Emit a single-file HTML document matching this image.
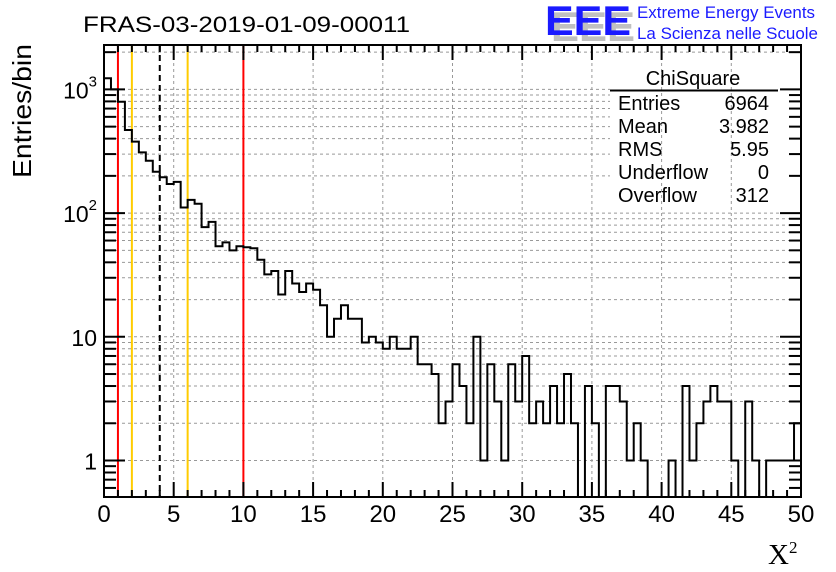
<!DOCTYPE html>
<html><head><meta charset="utf-8"><style>
html,body{margin:0;padding:0;background:#fff}
svg{display:block;font-family:"Liberation Sans",sans-serif}
</style></head><body>
<svg id="chart" width="836" height="572" viewBox="0 0 836 572" xmlns="http://www.w3.org/2000/svg">
<g id="grid"></g>
<g id="vlines"></g>
<g id="hist"></g>
<g id="axes"></g>
<text x="83" y="32" font-size="22" textLength="327" lengthAdjust="spacingAndGlyphs">FRAS-03-2019-01-09-00011</text>
<g>
<text x="551" y="41" font-size="42" font-weight="bold" fill="#c0c0c0" textLength="84" lengthAdjust="spacingAndGlyphs">EEE</text>
<text x="545" y="35" font-size="42" font-weight="bold" fill="#1a1aff" textLength="86" lengthAdjust="spacingAndGlyphs">EEE</text>
<text x="637" y="18" font-size="17" fill="#1a1aff" textLength="178" lengthAdjust="spacingAndGlyphs">Extreme Energy Events</text>
<text x="637" y="39" font-size="17" fill="#1a1aff" textLength="181" lengthAdjust="spacingAndGlyphs">La Scienza nelle Scuole</text>
</g>
<g font-size="20">
<text x="693" y="85" text-anchor="middle">ChiSquare</text>
<line x1="610" y1="90.5" x2="778" y2="90.5" stroke="#000" stroke-width="2"/>
<text x="618" y="110">Entries</text><text x="769" y="110" text-anchor="end">6964</text>
<text x="618" y="133">Mean</text><text x="769" y="133" text-anchor="end">3.982</text>
<text x="618" y="156">RMS</text><text x="769" y="156" text-anchor="end">5.95</text>
<text x="618" y="179">Underflow</text><text x="769" y="179" text-anchor="end">0</text>
<text x="618" y="202">Overflow</text><text x="769" y="202" text-anchor="end">312</text>
</g>
<text transform="translate(31,178) rotate(-90)" font-size="26" textLength="134" lengthAdjust="spacingAndGlyphs">Entries/bin</text>
<text x="768" y="564" font-size="29" font-family="Liberation Serif, serif">X<tspan dy="-11" font-size="17">2</tspan></text>
</svg>
<script>
const counts = [1230,1000,795,470,378,310,265,216,195,172,179,111,128,119,77,85,54,58,50,54,53,52,42,32,34,22,34,27,23,27,24,18,10,14,18,14,14,9,10,9,8,10,8,8,10,6,6,5,2,3,6,4,2,10,1,6,3,1,6,3,7,2,3,2,4,2,5,2,0,4,2,0,4,4,3,1,2,1,0,0,0,1,0,4,1,2,3,4,3,3,1,0,3,1,0,1,1,1,1,2];
const xTicks = [0,5,10,15,20,25,30,35,40,45,50];
const yDecades = [1,10,100,1000];
const markerRed = [1,10];
const markerOrange = [2,6];
const markerDashed = [4];
const xMin=0, xMax=50, binW=0.5;
const L=104,R=801,T=45,B=497;
const NS="http://www.w3.org/2000/svg";
function X(v){return L+(v-xMin)/(xMax-xMin)*(R-L);}
function Y(v){ if(v<=0) return B; return Math.max(T,Math.min(B,460.5-123.7*Math.log10(v))); }
function mk(tag,attrs,parent){const e=document.createElementNS(NS,tag);for(const k in attrs)e.setAttribute(k,attrs[k]);parent.appendChild(e);return e;}
const grid=document.getElementById('grid');
xTicks.forEach(t=>{ if(t>xMin&&t<xMax){
 const l=mk('line',{x1:X(t),x2:X(t),y1:T,y2:B,stroke:'#999','stroke-dasharray':'3,3','stroke-width':1},grid);
 
 }});
const ax=document.getElementById('axes');
yDecades.forEach(d=>{ for(let m=1;m<=9;m++){ const v=d*m; const y=Y(v); if(y<=T||y>=B) continue;
 const inBox = y>62&&y<208;
 const l=mk('line',{x1:L,x2:inBox?610:R,y1:y,y2:y,stroke:'#999','stroke-dasharray':'3,3','stroke-width':1},grid);
 
 
 const len=m===1?21:12;
 mk('line',{x1:L,x2:L+len,y1:y,y2:y,stroke:'#000','stroke-width':2},ax);
 mk('line',{x1:R-len,x2:R,y1:y,y2:y,stroke:'#000','stroke-width':2},ax);
}});
[0.6,0.7,0.8,0.9].forEach(v=>{const y=Y(v);mk('line',{x1:L,x2:L+12,y1:y,y2:y,stroke:'#000','stroke-width':2},ax);mk('line',{x1:R-12,x2:R,y1:y,y2:y,stroke:'#000','stroke-width':2},ax);});
for(let v=xMin; v<=xMax; v+=1){ const len=(v%5===0)?15:7;
 mk('line',{x1:X(v),x2:X(v),y1:B,y2:B-len,stroke:'#000','stroke-width':2},ax);
 mk('line',{x1:X(v),x2:X(v),y1:T,y2:T+len,stroke:'#000','stroke-width':2},ax);}
mk('rect',{x:L,y:T,width:R-L,height:B-T,fill:'none',stroke:'#000','stroke-width':2},ax);
xTicks.forEach(t=>{const tx=mk('text',{x:X(t),y:522,'text-anchor':'middle','font-size':24},ax);tx.textContent=t;
 
 });
yDecades.forEach(d=>{const e=Math.round(Math.log10(d));const tx=mk('text',{x:97,y:Y(d)+9,'text-anchor':'end','font-size':23},ax);
 
 
 if(e<=1){tx.textContent=String(d);}else{tx.textContent='10';const s=mk('tspan',{dy:-12,'font-size':15},tx);s.textContent=e;}});
const vl=document.getElementById('vlines');
function vline(v,color,dash){const l=mk('line',{x1:X(v),x2:X(v),y1:T,y2:B,stroke:color,'stroke-width':2},vl);if(dash)l.setAttribute('stroke-dasharray','6,4');
 
 }
markerRed.forEach(v=>vline(v,'#ff0000'));
markerOrange.forEach(v=>vline(v,'#ffcc00'));
markerDashed.forEach(v=>vline(v,'#000',true));
let d='M'+X(xMin)+','+B;
counts.forEach((c,i)=>{const x0=X(xMin+i*binW),x1=X(xMin+(i+1)*binW),y=Y(c);d+=' L'+x0+','+y+' L'+x1+','+y;});
d+=' L'+X(xMax)+','+B;
const p=mk('path',{d:d,fill:'none',stroke:'#000','stroke-width':2},document.getElementById('hist'));


</script>
</body></html>
